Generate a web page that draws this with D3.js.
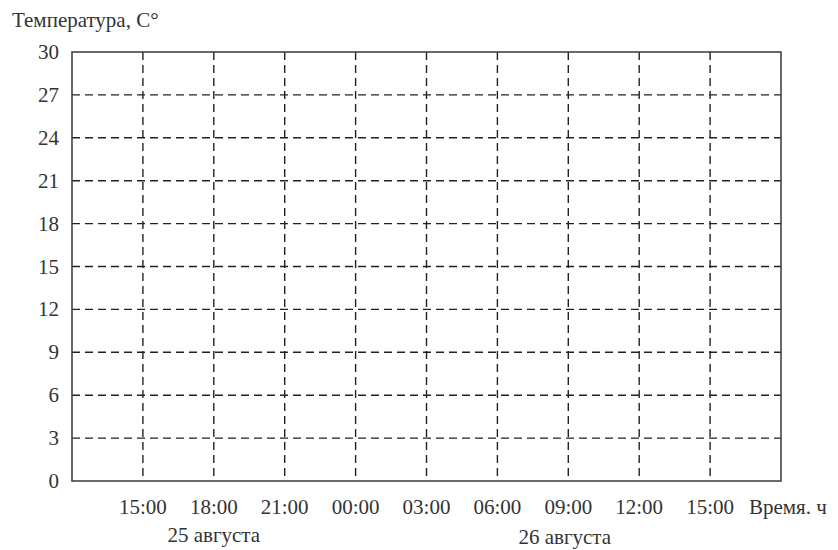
<!DOCTYPE html>
<html>
<head>
<meta charset="utf-8">
<script src="https://cdn.jsdelivr.net/npm/d3@7/dist/d3.min.js"></script>
<style>
  body { margin: 0; background: #fff; }
  svg text { font-family: "Liberation Serif", "Times New Roman", "DejaVu Serif", serif; fill: #333; }
</style>
</head>
<body>
<div id="chart"></div>
<script>
// ticks and labels
var yTicks = [0, 3, 6, 9, 12, 15, 18, 21, 24, 27, 30];
var timeLabels = ["15:00", "18:00", "21:00", "00:00", "03:00", "06:00", "09:00", "12:00", "15:00"];
var dayLabels = [{ name: "25 августа", at: 2 }, { name: "26 августа", at: 6.95 }];
var yTitle = "Температура, С°";
var xTitle = "Время. ч";

var width = 838, height = 550;
var plotLeft = 72, plotRight = 781, plotTop = 52, plotBottom = 481;
var fontSize = "21px";

var svg = d3.select("#chart").append("svg")
  .attr("width", width)
  .attr("height", height);

// slot 0 is the left edge, slots 1..9 are the labelled times, slot 10 the right edge
var x = d3.scaleLinear().domain([0, timeLabels.length + 1]).range([plotLeft, plotRight]);
var y = d3.scaleLinear().domain([0, 30]).range([plotBottom, plotTop]);

// dashed grid
svg.append("g").selectAll("line")
  .data(yTicks.filter(function (d) { return d > 0 && d < 30; }))
  .enter().append("line")
  .attr("x1", plotLeft).attr("x2", plotRight)
  .attr("y1", function (d) { return y(d); })
  .attr("y2", function (d) { return y(d); })
  .style("stroke", "#222").style("stroke-width", 1.4)
  .style("stroke-dasharray", "8,5");

svg.append("g").selectAll("line")
  .data(timeLabels)
  .enter().append("line")
  .attr("x1", function (d, i) { return x(i + 1); })
  .attr("x2", function (d, i) { return x(i + 1); })
  .attr("y1", plotTop).attr("y2", plotBottom)
  .style("stroke", "#222").style("stroke-width", 1.4)
  .style("stroke-dasharray", "8,5");

// frame
svg.append("rect")
  .attr("x", plotLeft).attr("y", plotTop)
  .attr("width", plotRight - plotLeft).attr("height", plotBottom - plotTop)
  .style("fill", "none").style("stroke", "#444").style("stroke-width", 1.6);

// y tick labels
svg.append("g").selectAll("text")
  .data(yTicks)
  .enter().append("text")
  .attr("x", 59)
  .attr("y", function (d) { return y(d) + 7; })
  .attr("text-anchor", "end")
  .attr("font-size", fontSize)
  .text(function (d) { return d; });

// x tick labels
svg.append("g").selectAll("text")
  .data(timeLabels)
  .enter().append("text")
  .attr("x", function (d, i) { return x(i + 1); })
  .attr("y", 514)
  .attr("text-anchor", "middle")
  .attr("font-size", fontSize)
  .text(function (d) { return d; });

// day labels
svg.append("g").selectAll("text")
  .data(dayLabels)
  .enter().append("text")
  .attr("x", function (d) { return x(d.at); })
  .attr("y", function (d, i) { return 542 + i * 2; })
  .attr("text-anchor", "middle")
  .attr("font-size", fontSize)
  .text(function (d) { return d.name; });

svg.append("text")
  .attr("x", 12).attr("y", 27)
  .attr("font-size", fontSize)
  .text(yTitle);

svg.append("text")
  .attr("x", 749).attr("y", 514)
  .attr("font-size", fontSize)
  .text(xTitle);
</script>
</body>
</html>
